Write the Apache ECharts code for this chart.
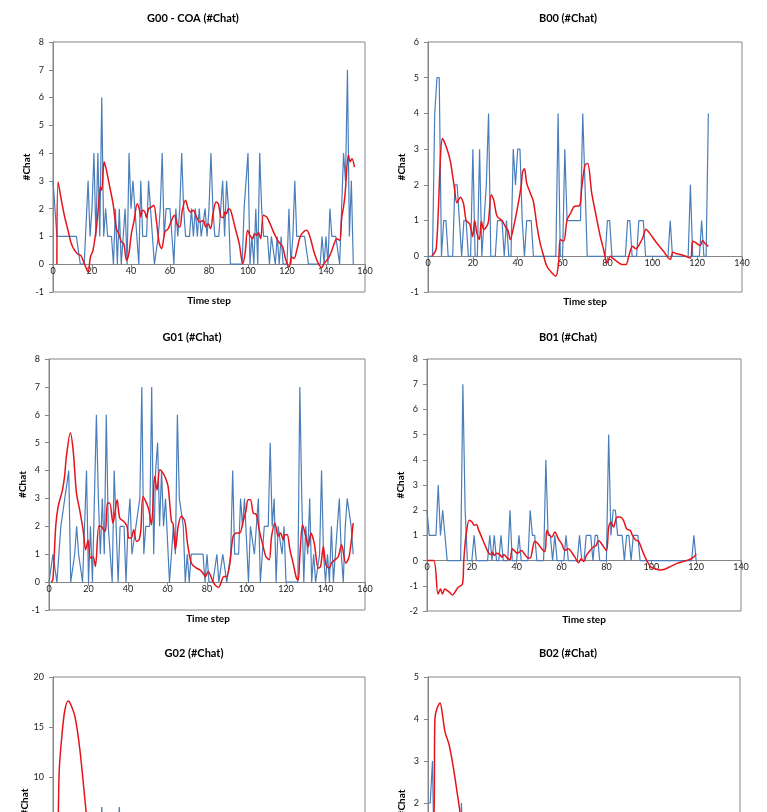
<!DOCTYPE html>
<html><head><meta charset="utf-8">
<script src="https://cdn.jsdelivr.net/npm/echarts@6/dist/echarts.min.js"></script>
<style>html,body{margin:0;padding:0;background:#fff}#c{width:767px;height:812px}</style>
</head><body><div id="c"></div>
<script>
// ---- tick / axis values ----
const xTicksG = [0, 20, 40, 60, 80, 100, 120, 140, 160];
const xTicksB = [0, 20, 40, 60, 80, 100, 120, 140];

// ---- G00 ----
const g00Blue = [3,3,1,1,1,1,1,1,1,1, 1,1,1,1,0,0,0,0,3,1, 2,4,1,4,1,6,1,2,1,1,
  1,0,2,0,2,0,1,2,0,4, 2,3,3,1,0,3,1,1,1,3, 2,1,0,0,1,2,4,1,2,2,
  2,2,0,2,1,2,4,2,1,1, 1,2,1,2,1,2,1,1,2,1, 2,4,2,1,1,1,1,3,1,3,
  2,0,0,0,0,0,0,0,2,2, 4,0,1,0,2,0,4,2,1,1, 1,0,1,1,0,1,0,1,0,0,
  0,2,0,1,3,1,1,1,1,1, 1,0,0,0,0,0,0,0,1,0, 1,0,2,1,1,1,1,0,2,4,
  3,7,1,3,0];
const g00Red = [[2,0],[2.6,2.96],[4.3,2.3],[6,1.7],[7.7,1.22],[9.4,0.74],[11.1,0.5],[12.8,0.36],[14.2,0.32],
  [15.4,0.14],[16.8,-0.1],[18,-0.28],[19.2,0.26],[20.5,0.5],[22.3,1.34],[23.3,2.06],[24.3,2.78],[25,2.66],
  [26.2,3.69],[27.4,3.39],[29.1,2.78],[30.8,2.18],[32.5,1.28],[33.7,1.1],[35.1,0.8],[36.3,0.74],[37.7,0.14],
  [38.9,0.38],[40.2,1.1],[41.6,1.58],[43.2,2.18],[44.2,2.0],[45,1.7],[45.9,1.94],[47.1,1.88],[47.9,1.68],
  [49.1,2.0],[50.5,2.06],[51.7,2.12],[53.1,1.52],[54.5,0.74],[55.7,0.56],[57.4,1.16],[59.1,1.28],[60.8,1.58],
  [62.2,1.76],[63.9,1.4],[65.1,1.34],[66.3,1.94],[68,2.3],[69.3,2.0],[70.5,1.88],[71.9,1.94],[73.6,1.7],
  [75.3,1.52],[77.1,1.58],[78.3,1.34],[79.6,1.46],[80.8,1.28],[82.2,1.88],[83.6,2.24],[84.8,2.18],[86.1,1.7],
  [87.3,1.68],[88.2,1.88],[89,1.82],[89.9,2.0],[91.1,1.94],[93.3,1.34],[95.5,0.74],[97.3,0.02],[98.5,0.38],
  [99.8,1.22],[101,1.04],[102.4,0.92],[103.3,1.1],[104.5,1.04],[105.3,1.14],[106.5,0.92],[107.9,1.76],
  [109.6,1.7],[111.3,1.46],[112.7,1.22],[113.9,1.04],[115.2,0.86],[116.4,0.74],[117.8,0.62],[119,0.26],
  [120.2,0],[121.1,-0.1],[122.4,0.26],[123.6,0.2],[125,0.5],[126.7,0.98],[128.4,1.16],[130.1,1.22],
  [131.8,0.98],[133.6,0.5],[135.3,0.14],[136.6,-0.04],[137.8,-0.12],[139,0.02],[140.4,0.14],[141.6,0.26],
  [143,0.5],[144.2,0.74],[145.5,0.92],[147,0.86],[148.1,1.7],[149,2.06],[149.8,2.54],[151.5,3.93],
  [152.4,3.69],[153.3,3.8],[154.6,3.5]];

// ---- B00 ----
const b00Blue = [0,0,0,4,5,5,0,1,1,0, 0,0,2,2,1,0,1,1,0,0, 3,0,0,3,0,1,2,4,0,0,
  0,1,1,1,0,1,0,0,3,2, 3,3,1,0,1,1,1,0,0,0, 0,0,0,0,0,0,0,0,4,0,
  0,3,1,1,1,1,1,1,1,4, 2,0,0,0,0,0,0,0,0,0, 1,1,0,0,0,0,0,0,0,1,
  1,0,0,0,1,1,1,0,0,0, 0,0,0,0,0,0,0,0,1,0, 0,0,0,0,0,0,0,2,0,0,
  0,0,1,0,0,4];
const b00Red = [[1.8,0],[3.7,0.23],[6.5,3.3],[8.5,3.0],[10,2.65],[11.7,1.95],[12.9,1.5],[14.4,1.65],[15.9,1.45],
  [17,1.0],[18.6,0.9],[19.9,0.55],[20.8,1.0],[21.8,0.65],[22.9,0.47],[23.8,0.98],[24.8,0.75],[26.3,0.85],
  [27,1.0],[28.2,1.72],[29.3,1.58],[30.8,1.12],[33,1.0],[34.5,0.83],[35.7,0.72],[36.7,0.47],[38.2,0.83],
  [40,1.4],[41.5,1.95],[42.2,2.37],[43,2.45],[44,2.05],[45.6,1.77],[47,1.53],[48.6,0.84],[50,0.37],
  [51.6,0],[53,-0.28],[55.3,-0.47],[57,-0.56],[58.2,-0.19],[59,0.47],[60.5,0.42],[62,1.02],[63.5,1.2],
  [65.4,1.4],[67.5,1.41],[68.6,1.95],[70,2.56],[71.2,2.6],[73,1.77],[75,1.12],[76.8,0.56],[78.3,0.19],
  [79.8,-0.19],[81.3,0],[82.3,-0.05],[84.2,-0.14],[86.5,-0.23],[88.3,-0.23],[89.5,0],[91.2,0.28],
  [92.7,0.21],[94.2,0.33],[95.7,0.51],[97.2,0.76],[99,0.63],[102,0.37],[105,0.14],[108,-0.09],
  [109.2,0.11],[111,0.07],[114,0.02],[117,-0.05],[118,0.42],[119.2,0.39],[121.4,0.3],[122.4,0.44],
  [123.6,0.35],[125,0.28]];

// ---- G01 ----
const g01Blue = [0,0,1,1,0,1,2,2,3,3, 4,0,0,1,2,1,1,0,0,4, 0,2,0,3,6,3,1,3,1,6,
  2,1,0,4,4,0,2,2,2,0, 2,3,1,1,2,2,3,7,1,2, 2,2,7,1,4,5,2,4,2,3,
  3,0,1,2,1,6,3,3,2,0, 1,0,1,1,1,1,1,1,1,0, 1,0,0,0,0,1,0,0,1,1,
  0,0,1,4,1,1,1,3,2,3, 3,0,2,2,1,2,3,0,1,2, 2,2,5,2,3,0,2,2,1,2,
  0,0,0,0,0,0,0,7,3,0, 2,1,3,0,1,0,0,1,4,1, 0,1,0,2,0,1,1,3,1,0,
  2,3,3,2,1];
const g01Red = [[1.2,0],[2,0.1],[3.4,2.0],[4.6,2.7],[6.8,3.3],[7.9,3.8],[8.8,4.5],[10.8,5.35],[12.2,4.75],
  [13.9,3.2],[15.5,2.6],[17.2,1.9],[18.6,1.16],[19.8,1.5],[20.9,0.86],[22.3,0.9],[23.5,0.56],[25.2,2.0],
  [26.2,2.0],[27.7,1.88],[28.6,1.82],[29.6,2.84],[30.7,2.84],[32.4,2.12],[34.5,2.95],[35.8,2.3],[37.8,2.18],
  [39.5,2.0],[40.4,1.58],[41.7,1.58],[42.9,1.88],[44.3,1.46],[45.6,1.52],[46.5,1.88],[47.6,3.07],[49.3,2.84],
  [50.5,2.6],[51.9,2.06],[53.5,3.8],[54.7,3.3],[56.1,4.03],[57.8,3.9],[59,3.73],[60.3,3.43],[62,2.18],
  [62.8,2.1],[64,1.16],[65.4,2.0],[67,2.36],[68.8,2.18],[70.1,1.4],[72.1,0.68],[74.7,0.5],[76.4,0.44],
  [78,0.32],[79.2,0.2],[80.6,0.38],[83,0.02],[84.5,-0.13],[86,-0.18],[87,-0.04],[88.5,0.2],[89.9,0.2],
  [91.6,0.68],[93.2,1.64],[95,1.76],[96.6,1.76],[98.3,2.18],[99.7,2.54],[100.8,2.95],[102,2.95],[103.4,2.48],
  [105,2.42],[106.4,1.88],[108.4,1.28],[109.8,0.92],[111.5,0.8],[112.7,1.64],[114.4,2.12],[116,1.64],
  [117.2,1.76],[118.6,1.52],[119.4,1.7],[120.6,1.7],[122,1.16],[123.6,0.68],[125.3,0.14],[126.2,0.08],
  [127,0.92],[128.4,2.06],[130,1.64],[131.3,1.28],[132.6,1.76],[134.3,1.4],[136.3,0.5],[137.5,0.56],
  [138.9,1.28],[140.2,0.62],[141.9,0.5],[143,0.68],[144.8,0.8],[146.5,0.92],[148.1,1.34],[150.3,0.68],
  [152,0.92],[154,2.12]];

// ---- B01 ----
const b01Blue = [2,1,1,1,1,3,1,2,1,0, 0,0,0,0,0,0,7,2,0,0, 0,1,0,0,0,0,0,0,1,0,
  1,0,0,1,0,0,0,2,0,0, 0,1,0,0,0,0,2,1,1,0, 0,0,0,4,1,1,0,1,0,0,
  0,0,1,0,0,0,0,0,1,0, 0,1,1,1,0,1,1,0,0,0, 0,5,1,2,2,1,1,1,0,1,
  1,0,1,1,1,0,0,0,0,0, 0,0,0,0,0,0,0,0,0,0, 0,0,0,0,0,0,0,0,0,1,
  0];
const b01Red = [[0,0],[3,0],[4.9,-1.33],[6,-1.13],[6.9,-1.33],[7.9,-1.13],[8.7,-1.17],[10.1,-1.26],
  [11.3,-1.37],[12.4,-1.26],[13.9,-1.06],[15.8,-0.93],[16.4,0],[17.3,0.93],[18.8,1.6],[20.1,1.53],
  [21,1.4],[22,1.43],[23.1,1.2],[25,0.8],[27.3,0.33],[28.5,0.24],[29.2,0.33],[30,0.2],[31,0.29],
  [32.5,0.24],[33.5,0.13],[34.3,0.24],[35.5,0.13],[37,0.03],[38,0.47],[39.2,0.37],[40.2,0.29],[41.1,0.33],
  [42.2,0.4],[43.2,0.29],[44.7,0.13],[46,0.1],[47,0.43],[48,0.77],[49.6,0.66],[51.1,0.47],[52.6,0.36],
  [53.4,1.2],[54.4,1.04],[55.6,0.93],[57,1.13],[58.6,0.86],[60.1,0.66],[61.5,0.4],[63,0.47],[64.5,0.33],
  [66,0.13],[67.5,-0.09],[68.7,0.07],[70,-0.04],[71,0.2],[72.7,0.4],[74,0.53],[75.4,0.6],[76.5,0.8],
  [77.9,0.66],[80,0.4],[81,1.33],[82,1.53],[83.2,1.33],[84.7,1.73],[86.2,1.73],[87.6,1.6],[89,1.26],
  [90.6,1.2],[91.6,1.0],[93,0.82],[94.3,0.77],[96,0.4],[97.3,0.13],[98.8,-0.13],[100,-0.27],[101.8,-0.33],
  [104,-0.37],[106.3,-0.33],[108.5,-0.24],[111.5,-0.11],[114.5,-0.03],[116.6,0.03],[118,0.09],
  [119.2,0.16],[120,0.27]];

// ---- G02 (only the top of the panel is visible) ----
const g02Blue = [6,5,3,4,6,2,5,3,4,2, 3,1,2,4,2,3,1,2,3,1, 2,4,1,3,2,7,2,1,3,2, 4,1,2,3,7,2,1,2,1,2];
const g02Red = [[2,0],[2.7,6],[3.2,10.7],[4.5,14],[6,16.6],[7.8,17.6],[9,17.3],[11.3,16],[13.8,12.7],
  [16.9,6.7],[18.5,4],[20,3],[22,2.5],[25,3],[28,3.5],[32,3],[36,2.6],[40,2.4]];

// ---- B02 (only the top of the panel is visible) ----
const b02Blue = [2,2,3,0,1,0,1,0,1,1, 0,1,0,1,0,2,0,1,0,0];
const b02Red = [[2,0],[2.8,2],[3.1,4.0],[4,4.25],[5.4,4.38],[6.5,4.1],[7.6,3.7],[9.5,3.38],[11.3,2.87],
  [13.1,2.24],[14.3,1.8],[15.5,1.2],[17,0.8],[19,0.6]];

// ---- layout ----
const FONT = 'Lato, "Open Sans", sans-serif';
const panels = [
  {title:'G00 - COA (#Chat)', blue:g00Blue, red:g00Red, xt:xTicksG, yMin:-1, yMax:8, yInt:1,
   grid:{left:53, top:42, width:312, height:250}, tx:193, ty:18, sx:209, sy:301},
  {title:'B00 (#Chat)', blue:b00Blue, red:b00Red, xt:xTicksB, yMin:-1, yMax:6, yInt:1,
   grid:{left:428, top:42, width:314, height:250}, tx:568, ty:18, sx:585, sy:302},
  {title:'G01 (#Chat)', blue:g01Blue, red:g01Red, xt:xTicksG, yMin:-1, yMax:8, yInt:1,
   grid:{left:49, top:359, width:316, height:251}, tx:192, ty:337, sx:208, sy:619},
  {title:'B01 (#Chat)', blue:b01Blue, red:b01Red, xt:xTicksB, yMin:-2, yMax:8, yInt:1,
   grid:{left:427, top:359, width:314, height:252}, tx:568, ty:337, sx:584, sy:620},
  {title:'G02 (#Chat)', blue:g02Blue, red:g02Red, xt:xTicksG, yMin:-5, yMax:20, yInt:5,
   grid:{left:53, top:677, width:312, height:250}, tx:194, ty:653, sx:209, sy:936},
  {title:'B02 (#Chat)', blue:b02Blue, red:b02Red, xt:xTicksB, yMin:-1, yMax:5, yInt:1,
   grid:{left:428, top:677, width:312, height:252}, tx:568, ty:653, sx:584, sy:938}
];

const option = {animation:false, backgroundColor:'#fff', grid:[], xAxis:[], yAxis:[], series:[], graphic:[]};
panels.forEach((p, i) => {
  option.grid.push(Object.assign({show:true, borderColor:'#868686', borderWidth:1, backgroundColor:'#fff',
    containLabel:false, outerBoundsMode:'none'}, p.grid));
  const xmax = p.xt[p.xt.length-1];
  // x axis drawn at y = 0 (Excel-style crossing): shift it up from the bottom edge by the scale position of 0
  const zeroOffset = -((0 - p.yMin) / (p.yMax - p.yMin)) * p.grid.height;
  option.xAxis.push({type:'value', gridIndex:i, min:p.xt[0], max:xmax, interval:p.xt[1]-p.xt[0],
    position:'bottom', offset:zeroOffset,
    axisLine:{onZero:false, lineStyle:{color:'#868686', width:1}},
    axisTick:{show:true, length:4, lineStyle:{color:'#868686'}},
    axisLabel:{color:'#222', fontSize:9, fontFamily:FONT, margin:2, hideOverlap:false},
    splitLine:{show:false}});
  option.yAxis.push({type:'value', gridIndex:i, min:p.yMin, max:p.yMax, interval:p.yInt,
    name:'#Chat', nameLocation:'middle', nameGap:20, nameRotate:90,
    nameTextStyle:{fontFamily:FONT, fontWeight:'bold', fontSize:10, color:'#000'},
    axisLine:{show:true, onZero:false, lineStyle:{color:'#868686', width:1}},
    axisTick:{show:true, length:4, lineStyle:{color:'#868686'}},
    axisLabel:{color:'#222', fontSize:9, fontFamily:FONT, margin:9},
    splitLine:{show:false}});
  option.series.push({type:'line', xAxisIndex:i, yAxisIndex:i, symbol:'none',
    data:p.blue.map((v, k) => [k, v]), lineStyle:{color:'#4a7ebb', width:1.2}, z:2});
  option.series.push({type:'line', xAxisIndex:i, yAxisIndex:i, symbol:'none', smooth:0.3,
    data:p.red, lineStyle:{color:'#e5141c', width:1.5}, z:3});
  option.graphic.push({type:'text', x:p.tx, y:p.ty, style:{text:p.title, fontFamily:FONT, fontWeight:'bold',
    fontSize:11, fill:'#000', align:'center', verticalAlign:'middle'}});
  option.graphic.push({type:'text', x:p.sx, y:p.sy, style:{text:'Time step', fontFamily:FONT, fontWeight:'bold',
    fontSize:10, fill:'#000', align:'center', verticalAlign:'middle'}});
});
const chart = echarts.init(document.getElementById('c'), null, {renderer:'canvas'});
chart.setOption(option);
</script></body></html>
